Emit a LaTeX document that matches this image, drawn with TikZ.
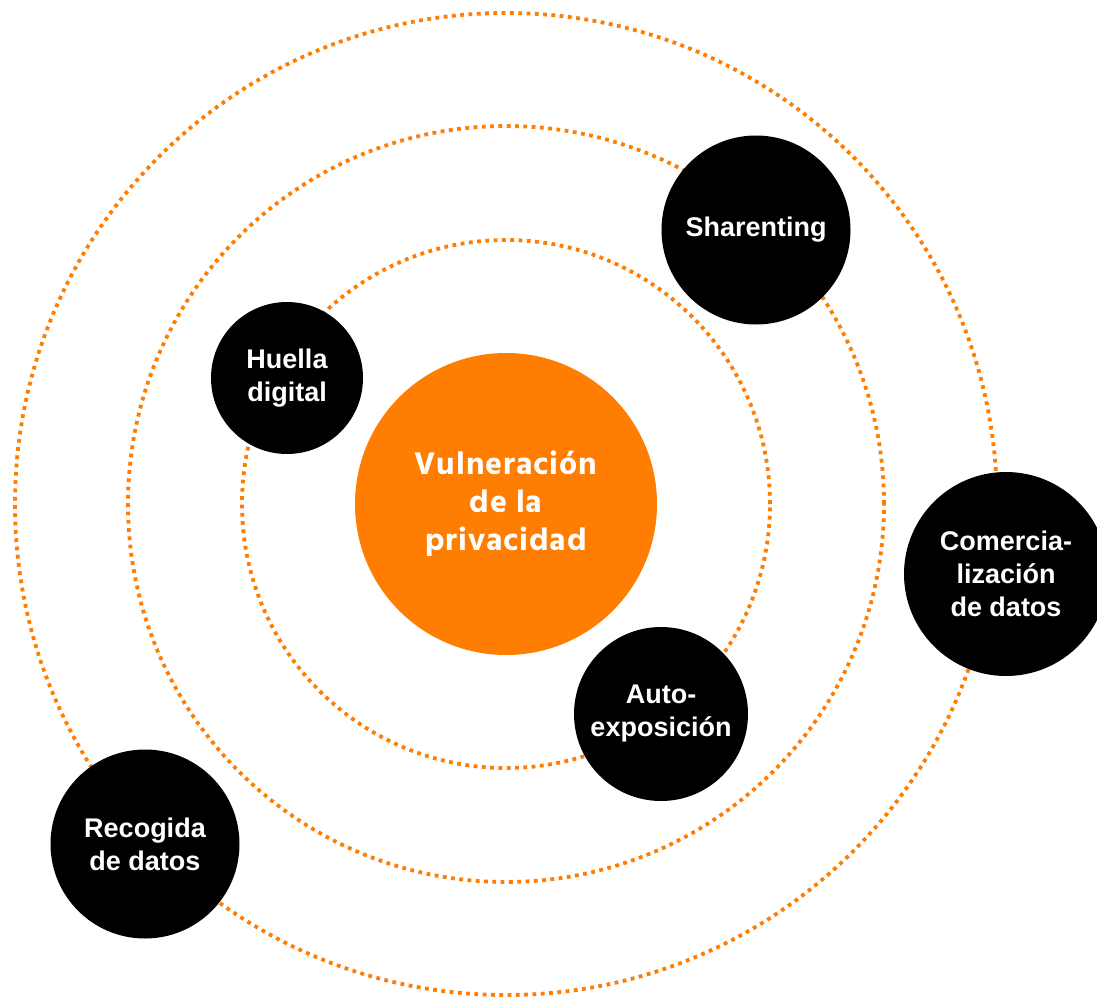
\documentclass[tikz,border=0pt]{standalone}
\usepackage{fontspec}
\setmainfont{Liberation Sans}
\newfontfamily\hindfont[LetterSpace=3]{Hind Siliguri Bold}
\usepackage{xcolor}
\usetikzlibrary{positioning}
\definecolor{naranja}{RGB}{255,125,0}

\begin{document}
\begin{tikzpicture}[x=1pt,y=-1pt]
			\tikzstyle{Orbita} = [draw=naranja, line width=3.8pt, dash pattern=on 3.8pt off 4.5pt]
			\tikzstyle{Tema}   = [circle, fill=black, text=white, align=center, inner sep=0pt, font=\bfseries\fontsize{27}{33}\selectfont]
			\tikzstyle{Centro} = [circle, fill=naranja, text=white, align=center, inner sep=0pt, minimum size=302pt, font=\hindfont\fontsize{32}{38}\selectfont]
			\useasboundingbox (0,0) rectangle (1097,998);
			%\draw[help lines, step=100] (0,0) grid (1097,998);
			\coordinate (O) at (506,504);
			\draw[Orbita] (O) circle[radius=264pt];
			\draw[Orbita] (O) circle[radius=378pt];
			\draw[Orbita] (O) circle[radius=491pt];
			
			\node[Centro] (vul) at (O) {Vulneración\\de la\\privacidad};
			
			\node[Tema, minimum size=189pt] (sha) at (756,230) {Sharenting};
			\node[Tema, minimum size=152pt] (hue) at (287,378) {Huella\\digital};
			\node[Tema, minimum size=204pt] (com) at (1006,574) {Comercia-\\lización\\de datos};
			\node[Tema, minimum size=174pt] (aut) at (661,714) {Auto-\\exposición};
			\node[Tema, minimum size=189pt] (rec) at (145,844) {Recogida\\de datos};
			
		\end{tikzpicture}
\end{document}
